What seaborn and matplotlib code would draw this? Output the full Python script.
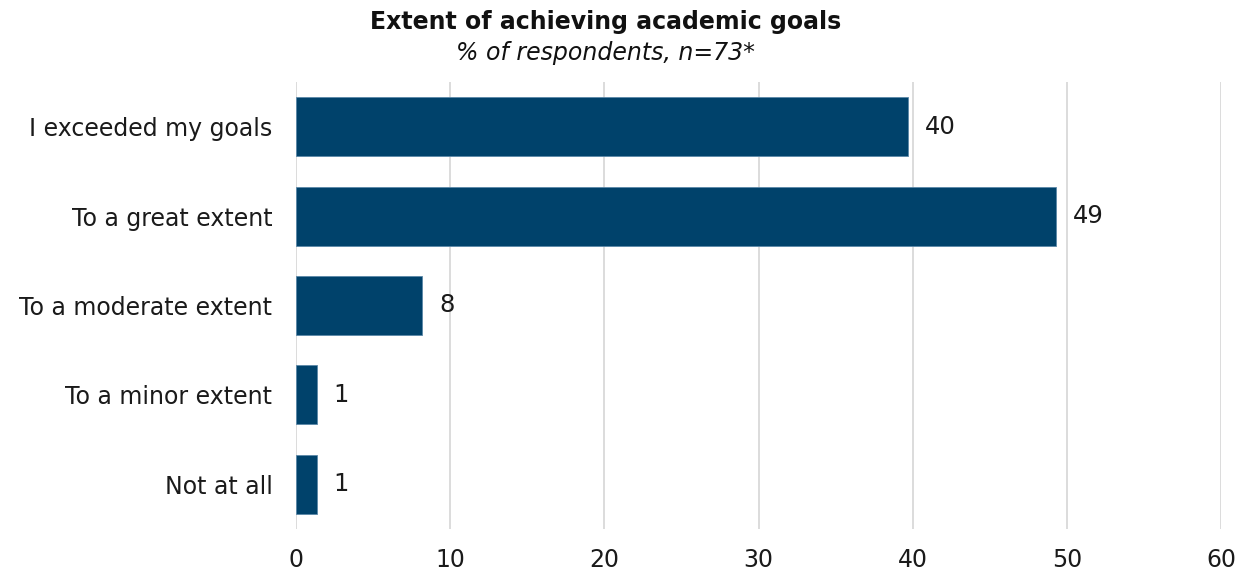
import matplotlib
matplotlib.use("Agg")
import matplotlib.pyplot as plt
import seaborn as sns
import pandas as pd

categories = ["I exceeded my goals", "To a great extent", "To a moderate extent",
              "To a minor extent", "Not at all"]
values = [39.7, 49.3, 8.2, 1.35, 1.35]
labels = ["40", "49", "8", "1", "1"]
x_ticks = [0, 10, 20, 30, 40, 50, 60]

df = pd.DataFrame({"category": categories, "value": values})

sns.set_theme(style="white")
plt.rcParams["font.family"] = ["DejaVu Sans"]

fig = plt.figure(figsize=(12.51, 5.72), dpi=100)
ax = fig.add_axes([296 / 1251, 1 - 529 / 572, (1221 - 296) / 1251, (529 - 82) / 572])

sns.barplot(data=df, x="value", y="category", orient="h", color="#00426b",
            saturation=1, width=0.66, ax=ax, edgecolor="#5b88a8", linewidth=0.6)

ax.set_xlim(0, 60)
ax.set_ylim(4.5, -0.5)
ax.set_xticks(x_ticks)
ax.set_xticklabels([str(t) for t in x_ticks])
ax.xaxis.grid(True, color="#d9d9d9", linewidth=1.3)
ax.set_axisbelow(True)
for s in ax.spines.values():
    s.set_visible(False)
ax.tick_params(axis="x", length=0, pad=14, labelsize=17, colors="#1a1a1a")
ax.tick_params(axis="y", length=0, pad=17, labelsize=17, colors="#1a1a1a")
ax.set_xlabel("")
ax.set_ylabel("")

for cont in ax.containers:
    ax.bar_label(cont, labels=labels, padding=12, fontsize=17.5, color="#1a1a1a")

fig.text(606 / 1251, 1 - 22 / 572, "Extent of achieving academic goals", ha="center",
         va="center", fontsize=17, fontweight="bold", color="#111111")
fig.text(606 / 1251, 1 - 53 / 572, "% of respondents, n=73*", ha="center",
         va="center", fontsize=17, fontstyle="italic", color="#111111")

fig.savefig("out.png", dpi=100)
